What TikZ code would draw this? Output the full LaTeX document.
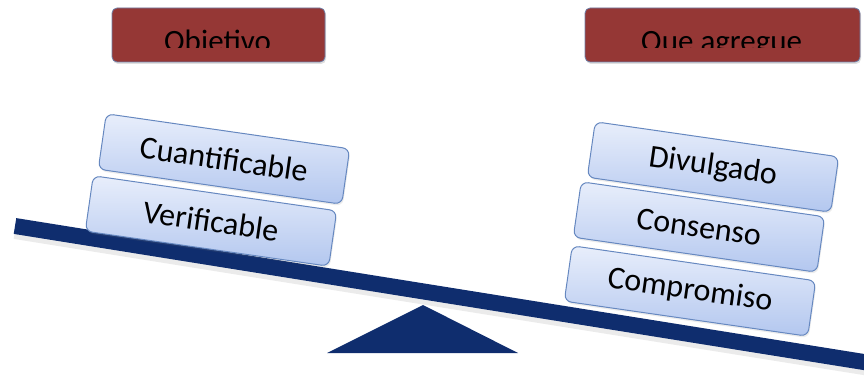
\documentclass[tikz,border=0pt]{standalone}
\usepackage{fontspec}
\setmainfont{Carlito}
\usepackage{tikz}
\usetikzlibrary{positioning,shadows}

\definecolor{beamblue}{HTML}{0F2D6E}
\definecolor{hdrred}{HTML}{953735}
\definecolor{hdredge}{HTML}{6E7FA8}
\definecolor{boxtop}{HTML}{E8EEFB}
\definecolor{boxbot}{HTML}{B3C7EF}
\definecolor{boxedge}{HTML}{6688C0}

\begin{document}
\begin{tikzpicture}[x=1pt,y=-1pt,
	header/.style={draw=hdredge, line width=0.8pt, fill=hdrred, rounded corners=5pt,
		minimum width=#1, minimum height=54pt,
		drop shadow={opacity=0.25, shadow xshift=1pt, shadow yshift=-2pt}},
	hdrtext/.style={font=\fontsize{31}{31}\selectfont, anchor=base, inner sep=0pt},
	weight/.style={draw=boxedge, line width=1pt, rounded corners=7pt,
		top color=boxtop, bottom color=boxbot, minimum width=246pt, minimum height=56pt,
		rotate=-8.2, font=\fontsize{32}{32}\selectfont, inner sep=0pt,
		drop shadow={opacity=0.15, shadow xshift=1pt, shadow yshift=-2pt}},
	beam/.style={line width=16pt, draw=beamblue}]
			\clip (0,0) rectangle (864,377);
			% balance bar and pivot
			\coordinate (beam_l) at (15,226);
			\coordinate (beam_r) at (880,364.6);
			\draw[beam, draw=black, opacity=0.08] ([yshift=-5pt]beam_l) -- ([yshift=-5pt]beam_r);
			\draw[beam] (beam_l) -- (beam_r);
			\coordinate (apex) at (423,305);
			\coordinate (base_l) at (327,353);
			\coordinate (base_r) at (518,353);
			\fill[beamblue] (apex) -- (base_r) -- (base_l) -- cycle;
			% left pan
			\node[weight] (verif) at (211,221) {Verificable};
			\node[weight] (cuant) at (224,159) {Cuantificable};
			% right pan
			\node[weight] (compr) at (690,291) {Compromiso};
			\node[weight] (conse) at (699,227) {Consenso};
			\node[weight] (divul) at (713,167) {Divulgado};
			% headers
			\node[header=213pt] (objetivo) at (218.5,35) {};
			\begin{scope}
				\clip (objetivo.north west) rectangle (objetivo.east |- 0,48);
				\node[hdrtext] (objetivo_txt) at (217.5,52) {Objetivo};
			\end{scope}
			\node[header=275pt] (agregue) at (722.5,35) {};
			\begin{scope}
				\clip (agregue.north west) rectangle (agregue.east |- 0,48);
				\node[hdrtext] (agregue_txt) at (721.5,52) {Que agregue};
			\end{scope}
		\end{tikzpicture}
\end{document}
